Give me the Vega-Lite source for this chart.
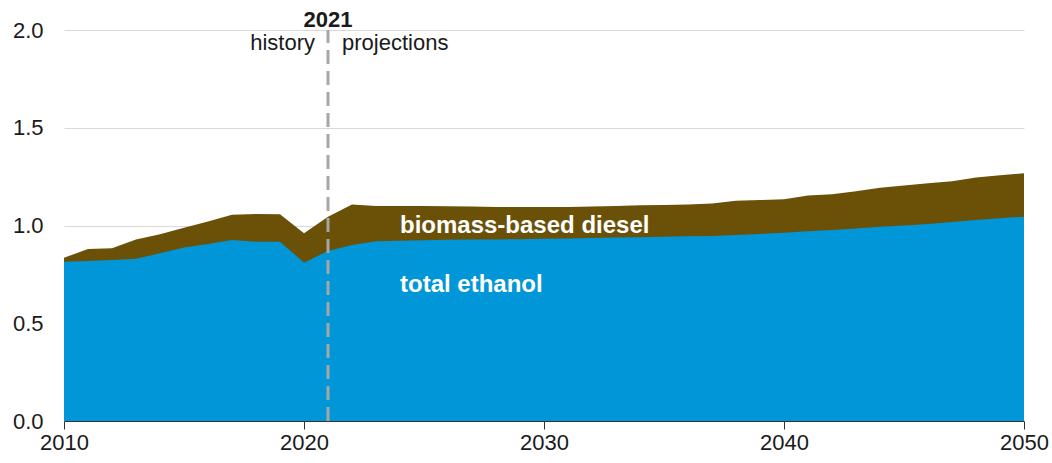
{
  "$schema": "https://vega.github.io/schema/vega-lite/v6.json",
  "width": 960,
  "height": 391,
  "autosize": {"type": "none"},
  "padding": {"left": 64, "top": 30, "right": 28, "bottom": 42},
  "background": "white",
  "config": {
    "view": {"stroke": null},
    "font": "Liberation Sans"
  },
  "datasets": {
    "fuel": [
      {"year": 2010, "ethanol": 0.815, "total": 0.835},
      {"year": 2011, "ethanol": 0.818, "total": 0.88},
      {"year": 2012, "ethanol": 0.823, "total": 0.883},
      {"year": 2013, "ethanol": 0.83, "total": 0.929},
      {"year": 2014, "ethanol": 0.858, "total": 0.955},
      {"year": 2015, "ethanol": 0.888, "total": 0.989},
      {"year": 2016, "ethanol": 0.905, "total": 1.02},
      {"year": 2017, "ethanol": 0.926, "total": 1.055},
      {"year": 2018, "ethanol": 0.917, "total": 1.059},
      {"year": 2019, "ethanol": 0.917, "total": 1.057},
      {"year": 2020, "ethanol": 0.81, "total": 0.96},
      {"year": 2021, "ethanol": 0.87, "total": 1.045},
      {"year": 2022, "ethanol": 0.9, "total": 1.107},
      {"year": 2023, "ethanol": 0.92, "total": 1.1},
      {"year": 2024, "ethanol": 0.922, "total": 1.1},
      {"year": 2025, "ethanol": 0.925, "total": 1.1},
      {"year": 2026, "ethanol": 0.927, "total": 1.098},
      {"year": 2027, "ethanol": 0.928, "total": 1.097},
      {"year": 2028, "ethanol": 0.929, "total": 1.095},
      {"year": 2029, "ethanol": 0.93, "total": 1.095},
      {"year": 2030, "ethanol": 0.932, "total": 1.095},
      {"year": 2031, "ethanol": 0.934, "total": 1.095},
      {"year": 2032, "ethanol": 0.936, "total": 1.097},
      {"year": 2033, "ethanol": 0.938, "total": 1.1},
      {"year": 2034, "ethanol": 0.94, "total": 1.103},
      {"year": 2035, "ethanol": 0.943, "total": 1.105},
      {"year": 2036, "ethanol": 0.945, "total": 1.108},
      {"year": 2037, "ethanol": 0.946, "total": 1.113},
      {"year": 2038, "ethanol": 0.951, "total": 1.127},
      {"year": 2039, "ethanol": 0.957, "total": 1.13},
      {"year": 2040, "ethanol": 0.963, "total": 1.134},
      {"year": 2041, "ethanol": 0.97, "total": 1.153},
      {"year": 2042, "ethanol": 0.977, "total": 1.16},
      {"year": 2043, "ethanol": 0.985, "total": 1.175},
      {"year": 2044, "ethanol": 0.994, "total": 1.193},
      {"year": 2045, "ethanol": 1.0, "total": 1.205},
      {"year": 2046, "ethanol": 1.008, "total": 1.216},
      {"year": 2047, "ethanol": 1.018, "total": 1.226},
      {"year": 2048, "ethanol": 1.028, "total": 1.246},
      {"year": 2049, "ethanol": 1.037, "total": 1.257},
      {"year": 2050, "ethanol": 1.045, "total": 1.267}
    ],
    "labels": [
      {"year": 2024, "value": 0.997, "text": "biomass-based diesel"},
      {"year": 2024, "value": 0.696, "text": "total ethanol"}
    ],
    "marker": [
      {"year": 2021, "bottom": 0, "top": 2.0, "labelY": 2.015, "phaseY": 1.898}
    ]
  },
  "layer": [
    {
      "data": {"name": "fuel"},
      "mark": {"type": "area", "color": "#6B5108", "interpolate": "linear"},
      "encoding": {
        "x": {
          "field": "year", "type": "quantitative",
          "scale": {"domain": [2010, 2050], "nice": false, "zero": false},
          "axis": {
            "title": null, "values": [2010, 2020, 2030, 2040, 2050], "format": "d",
            "grid": false, "domain": true, "domainColor": "#333333", "domainWidth": 1,
            "ticks": true, "tickColor": "#333333", "tickSize": 8, "tickWidth": 1,
            "labelFontSize": 22, "labelColor": "#1a1a1a", "labelPadding": 3,
            "labelFont": "Liberation Sans", "labelFlush": false
          }
        },
        "y": {
          "field": "total", "type": "quantitative",
          "scale": {"domain": [0, 2], "nice": false},
          "axis": {
            "title": null, "values": [0, 0.5, 1, 1.5, 2], "format": ".1f",
            "domain": false, "ticks": false, "grid": true, "gridColor": "#D9D9D9", "gridWidth": 1,
            "labelFontSize": 22, "labelColor": "#1a1a1a", "labelPadding": 21,
            "labelFont": "Liberation Sans"
          }
        }
      }
    },
    {
      "data": {"name": "fuel"},
      "mark": {"type": "area", "color": "#0096D8", "interpolate": "linear"},
      "encoding": {
        "x": {"field": "year", "type": "quantitative"},
        "y": {"field": "ethanol", "type": "quantitative"}
      }
    },
    {
      "data": {"name": "labels"},
      "mark": {"type": "text", "align": "left", "baseline": "middle", "color": "white", "fontWeight": "bold", "fontSize": 24, "font": "Liberation Sans"},
      "encoding": {
        "x": {"field": "year", "type": "quantitative"},
        "y": {"field": "value", "type": "quantitative"},
        "text": {"field": "text"}
      }
    },
    {
      "data": {"name": "marker"},
      "mark": {"type": "rule", "color": "#A6A6A6", "strokeWidth": 3, "strokeDash": [14, 7]},
      "encoding": {
        "x": {"field": "year", "type": "quantitative"},
        "y": {"field": "bottom", "type": "quantitative"},
        "y2": {"field": "top"}
      }
    },
    {
      "data": {"name": "marker"},
      "mark": {"type": "text", "align": "center", "baseline": "alphabetic", "fontWeight": "bold", "fontSize": 22, "color": "#1a1a1a", "font": "Liberation Sans"},
      "encoding": {
        "x": {"field": "year", "type": "quantitative"},
        "y": {"field": "labelY", "type": "quantitative"},
        "text": {"value": "2021"}
      }
    },
    {
      "data": {"name": "marker"},
      "mark": {"type": "text", "align": "right", "baseline": "alphabetic", "fontSize": 22, "color": "#1a1a1a", "font": "Liberation Sans", "dx": -13},
      "encoding": {
        "x": {"field": "year", "type": "quantitative"},
        "y": {"field": "phaseY", "type": "quantitative"},
        "text": {"value": "history"}
      }
    },
    {
      "data": {"name": "marker"},
      "mark": {"type": "text", "align": "left", "baseline": "alphabetic", "fontSize": 22, "color": "#1a1a1a", "font": "Liberation Sans", "dx": 14},
      "encoding": {
        "x": {"field": "year", "type": "quantitative"},
        "y": {"field": "phaseY", "type": "quantitative"},
        "text": {"value": "projections"}
      }
    }
  ]
}
